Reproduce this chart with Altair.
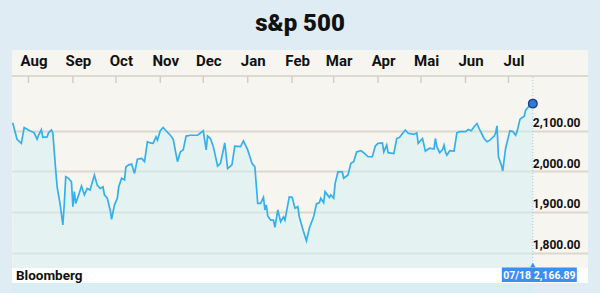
import altair as alt
import pandas as pd

# ---------------- data ----------------
DATES = [
    "2015-07-21", "2015-07-24", "2015-07-27", "2015-07-29", "2015-08-01", "2015-08-05", "2015-08-07", "2015-08-08", "2015-08-10", "2015-08-11",
    "2015-08-14", "2015-08-15", "2015-08-17", "2015-08-18", "2015-08-20", "2015-08-21", "2015-08-23", "2015-08-25", "2015-08-26", "2015-08-27",
    "2015-08-29", "2015-08-31", "2015-09-01", "2015-09-02", "2015-09-03", "2015-09-05", "2015-09-07", "2015-09-09", "2015-09-11", "2015-09-13",
    "2015-09-16", "2015-09-18", "2015-09-20", "2015-09-22", "2015-09-23", "2015-09-25", "2015-09-27", "2015-09-28", "2015-09-30", "2015-10-02",
    "2015-10-03", "2015-10-05", "2015-10-07", "2015-10-08", "2015-10-10", "2015-10-12", "2015-10-14", "2015-10-16", "2015-10-19", "2015-10-21",
    "2015-10-23", "2015-10-25", "2015-10-27", "2015-10-29", "2015-10-30", "2015-11-01", "2015-11-03", "2015-11-05", "2015-11-08", "2015-11-10",
    "2015-11-13", "2015-11-15", "2015-11-17", "2015-11-19", "2015-11-22", "2015-11-27", "2015-12-01", "2015-12-03", "2015-12-04", "2015-12-06",
    "2015-12-08", "2015-12-11", "2015-12-13", "2015-12-16", "2015-12-18", "2015-12-21", "2015-12-23", "2015-12-27", "2015-12-29", "2016-01-01",
    "2016-01-04", "2016-01-06", "2016-01-08", "2016-01-10", "2016-01-12", "2016-01-13", "2016-01-14", "2016-01-15", "2016-01-17", "2016-01-19",
    "2016-01-20", "2016-01-22", "2016-01-24", "2016-01-26", "2016-01-27", "2016-01-30", "2016-02-01", "2016-02-03", "2016-02-05", "2016-02-06",
    "2016-02-09", "2016-02-11", "2016-02-13", "2016-02-16", "2016-02-18", "2016-02-20", "2016-02-21", "2016-02-23", "2016-02-24", "2016-02-27",
    "2016-02-28", "2016-03-01", "2016-03-02", "2016-03-04", "2016-03-07", "2016-03-08", "2016-03-11", "2016-03-13", "2016-03-15", "2016-03-17",
    "2016-03-20", "2016-03-22", "2016-03-25", "2016-03-28", "2016-03-30", "2016-04-01", "2016-04-04", "2016-04-05", "2016-04-07", "2016-04-08",
    "2016-04-12", "2016-04-14", "2016-04-16", "2016-04-20", "2016-04-22", "2016-04-26", "2016-04-28", "2016-04-29", "2016-05-02", "2016-05-04",
    "2016-05-07", "2016-05-10", "2016-05-11", "2016-05-12", "2016-05-14", "2016-05-16", "2016-05-17", "2016-05-18", "2016-05-19", "2016-05-21",
    "2016-05-24", "2016-05-26", "2016-05-28", "2016-06-01", "2016-06-03", "2016-06-05", "2016-06-07", "2016-06-09", "2016-06-11", "2016-06-14",
    "2016-06-16", "2016-06-18", "2016-06-21", "2016-06-22", "2016-06-23", "2016-06-24", "2016-06-26", "2016-06-27", "2016-06-29", "2016-07-02",
    "2016-07-04", "2016-07-06", "2016-07-07", "2016-07-09", "2016-07-10", "2016-07-12", "2016-07-13", "2016-07-16", "2016-07-18",
]

VALUES = [
    2120, 2079, 2069, 2108, 2102, 2095, 2079, 2089, 2103, 2084,
    2085, 2095, 2102, 2094, 2003, 1962, 1921, 1868, 1921, 1987,
    1983, 1974, 1913, 1950, 1921, 1942, 1964, 1942, 1958, 1954,
    1991, 1966, 1958, 1962, 1942, 1934, 1905, 1882, 1917, 1934,
    1962, 1983, 1979, 2011, 2016, 2018, 1995, 2030, 2032, 2024,
    2073, 2070, 2069, 2085, 2077, 2100, 2108, 2100, 2089, 2079,
    2024, 2048, 2053, 2087, 2089, 2089, 2100, 2053, 2087, 2081,
    2061, 2013, 2020, 2070, 2007, 2016, 2062, 2061, 2075, 2053,
    2020, 2011, 1921, 1921, 1936, 1905, 1917, 1890, 1880, 1880,
    1862, 1905, 1876, 1888, 1880, 1937, 1936, 1909, 1913, 1888,
    1851, 1829, 1860, 1888, 1920, 1923, 1934, 1923, 1950, 1936,
    1942, 1934, 1970, 1999, 1999, 1983, 1991, 2020, 2024, 2048,
    2051, 2046, 2036, 2036, 2062, 2069, 2070, 2048, 2065, 2046,
    2044, 2081, 2084, 2102, 2094, 2091, 2095, 2069, 2081, 2050,
    2057, 2055, 2081, 2061, 2046, 2054, 2065, 2048, 2040, 2051,
    2050, 2095, 2098, 2098, 2103, 2100, 2110, 2118, 2102, 2081,
    2073, 2077, 2087, 2094, 2112, 2036, 2016, 2001, 2057, 2100,
    2098, 2089, 2098, 2128, 2131, 2136, 2151, 2163, 2166.89,
]

MONTH_STARTS = [
    "2015-08-01", "2015-09-01", "2015-10-01", "2015-11-01", "2015-12-01", "2016-01-01",
    "2016-02-01", "2016-03-01", "2016-04-01", "2016-05-01", "2016-06-01", "2016-07-01",
]
MONTH_NAMES = ["Jan", "Feb", "Mar", "Apr", "Mai", "Jun", "Jul", "Aug", "Sep", "Oct", "Nov", "Dec"]
Y_TICKS = [1800, 1900, 2000, 2100]
TITLE = "s&p 500"
SOURCE = "Bloomberg"

# ---------------- style ----------------
FONT = "Roboto"
BG = "#e0ecf3"
PANEL = "#f7f5ef"
MINT = "#d2eff3"
LINE = "#33b0f0"
BLUE_BOX = "#3b8ff3"
GRID = "#dbd8cd"
W, H = 576, 218

df = pd.DataFrame({"date": pd.to_datetime(DATES), "value": VALUES})
last = df.tail(1).copy()
months = pd.DataFrame({"date": pd.to_datetime(MONTH_STARTS)})
one = pd.DataFrame({"k": [0]})

xscale = alt.Scale(domain=[alt.DateTime(year=2015, month=7, date=20, hours=12),
                           alt.DateTime(year=2016, month=8, date=25, hours=12)])
yscale = alt.Scale(domain=[1762, 2299], nice=False, zero=False)

label_expr = "[" + ",".join(f"'{m}'" for m in MONTH_NAMES) + "][month(datum.value)]"

x_axis = alt.Axis(
    orient="top", title=None,
    values=[alt.DateTime(year=int(d.year), month=int(d.month), date=1) for d in months["date"]],
    labelExpr=label_expr, domain=False, ticks=False, grid=False,
    offset=-20, labelPadding=5, labelBaseline="alphabetic", labelOffset=5,
    labelFont=FONT, labelFontSize=15, labelFontWeight="bold", labelColor="#111111",
    labelFlush=False, labelOverlap=False,
)
y_axis = alt.Axis(
    orient="right", title=None, values=Y_TICKS, format=",.2f",
    domain=False, ticks=False, tickSize=0, offset=-8, labelPadding=0,
    labelAlign="right", labelBaseline="alphabetic", labelOffset=-4,
    labelFont=FONT, labelFontSize=12, labelFontWeight="bold", labelColor="#111111",
    grid=True, gridColor=GRID, gridWidth=2,
)


def X():
    return alt.X("date:T", scale=xscale, axis=x_axis)


def Y():
    return alt.Y("value:Q", scale=yscale, axis=y_axis)


area = alt.Chart(df).mark_area(color=MINT, opacity=0.5).encode(x=X(), y=Y())
line = alt.Chart(df).mark_line(color=LINE, strokeWidth=1.7).encode(x=X(), y=Y())

sep = alt.Chart(one).mark_rule(color="#dcd9cf", strokeWidth=2).encode(
    x=alt.value(0), x2=alt.value(W), y=alt.value(26))
ticks = alt.Chart(months).mark_rule(color="#d2cfc5", strokeWidth=1.5).encode(
    x=X(), y=alt.value(26), y2=alt.value(33))
vline = alt.Chart(last).mark_rule(color="#9cc8e8", strokeDash=[1, 2], strokeWidth=1).encode(
    x=X(), y=alt.value(27), y2=alt.value(214))

footer = alt.Chart(one).mark_rect(color="white").encode(
    x=alt.value(0), x2=alt.value(W), y=alt.value(H), y2=alt.value(H + 15))
source = alt.Chart(one).mark_text(
    text=SOURCE, align="left", baseline="alphabetic", font=FONT, fontSize=13.5,
    fontWeight="bold", color="#111111").encode(x=alt.value(4), y=alt.value(H + 12))

box = alt.Chart(last).mark_rect(color=BLUE_BOX, xOffset=-31, x2Offset=44).encode(
    x=X(), x2=alt.X2("date:T"), y=alt.value(H - 0.5), y2=alt.value(H + 14))
pointer = alt.Chart(last).mark_point(shape="triangle-up", filled=True, color=BLUE_BOX,
                                      size=28, opacity=1).encode(x=X(), y=alt.value(H - 3))
box_text = alt.Chart(last).transform_calculate(
    lbl="timeFormat(datum.date, '%m/%d') + ' ' + format(datum.value, ',.2f')"
).mark_text(color="white", font=FONT, fontSize=10.5, fontWeight="bold", align="center",
            baseline="alphabetic", dx=6.5).encode(x=X(), y=alt.value(H + 11), text="lbl:N")

dot = alt.Chart(last).mark_point(shape="circle", filled=True, fill="#2d79e0", stroke="#1c3f7c",
                                  strokeWidth=1.3, size=75, opacity=1).encode(x=X(), y=Y())

title = alt.Chart(one).mark_text(
    text=TITLE, font=FONT, fontSize=24, fontWeight=900, color="#111111",
    baseline="alphabetic", align="center").encode(x=alt.value(W / 2), y=alt.value(-19))

chart = alt.layer(
    area, line, sep, ticks, vline, footer, source, box, pointer, box_text, dot, title
).properties(
    width=W, height=H, autosize="none", background=BG,
    padding={"left": 12, "top": 50, "right": 12, "bottom": 25},
).configure_view(fill=PANEL, stroke=None)

chart.save("out.html", embed_options={"renderer": "svg", "actions": False})
